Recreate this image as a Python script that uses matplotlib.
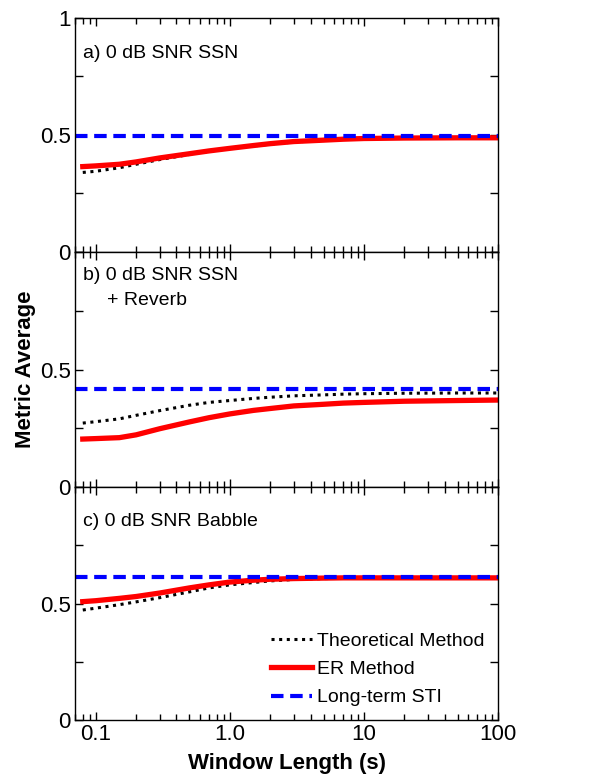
import numpy as np
import matplotlib.pyplot as plt
from matplotlib.ticker import FixedLocator, NullFormatter

plt.rcParams['font.family'] = ['Liberation Sans', 'DejaVu Sans']

# window length (s)
win = [0.08, 0.1, 0.15, 0.2, 0.3, 0.5, 0.7, 1.0, 1.5, 2, 3, 5, 7, 10, 20, 50, 100]

# a) 0 dB SNR SSN
a_theo = [0.340, 0.345, 0.360, 0.375, 0.395, 0.417, 0.430, 0.441, 0.453, 0.461, 0.470, 0.477, 0.481, 0.484, 0.486, 0.487, 0.487]
a_er = [0.365, 0.368, 0.375, 0.385, 0.402, 0.420, 0.432, 0.443, 0.455, 0.463, 0.472, 0.478, 0.482, 0.485, 0.487, 0.488, 0.488]
a_sti = 0.494

# b) 0 dB SNR SSN + Reverb
b_theo = [0.272, 0.278, 0.290, 0.305, 0.325, 0.348, 0.360, 0.368, 0.377, 0.382, 0.388, 0.392, 0.395, 0.397, 0.399, 0.400, 0.400]
b_er = [0.204, 0.206, 0.210, 0.222, 0.248, 0.277, 0.295, 0.311, 0.326, 0.334, 0.345, 0.352, 0.357, 0.360, 0.365, 0.368, 0.370]
b_sti = 0.417

# c) 0 dB SNR Babble
c_theo = [0.472, 0.480, 0.495, 0.507, 0.525, 0.550, 0.567, 0.580, 0.590, 0.597, 0.603, 0.607, 0.608, 0.609, 0.610, 0.610, 0.610]
c_er = [0.508, 0.512, 0.522, 0.530, 0.545, 0.567, 0.580, 0.592, 0.600, 0.604, 0.607, 0.609, 0.610, 0.610, 0.610, 0.610, 0.610]
c_sti = 0.614

panels = [
    (['a) 0 dB SNR SSN'], a_theo, a_er, a_sti),
    (['b) 0 dB SNR SSN', '+ Reverb'], b_theo, b_er, b_sti),
    (['c) 0 dB SNR Babble'], c_theo, c_er, c_sti),
]

fig = plt.figure(figsize=(6.06, 7.80), dpi=100)
W, H = 606.0, 780.0
left, right = 75 / W, 498 / W
tops = [18, 252, 487]
bots = [252, 487, 720]

axes = []
for i, (lab, theo, er, sti) in enumerate(panels):
    ax = fig.add_axes([left, 1 - bots[i] / H, right - left, (bots[i] - tops[i]) / H])
    axes.append(ax)
    ax.plot(win, theo, color='black', ls=(0, (1, 1.5)), lw=2.2, label='Theoretical Method')
    ax.plot(win, er, color='red', lw=3.8, label='ER Method')
    ax.plot([0.07, 100], [sti, sti], color='blue', ls=(0, (3, 1.6)), lw=3, label='Long-term STI')
    ax.set_xscale('log')
    ax.set_xlim(0.07, 100)
    ax.set_ylim(0, 1)
    ax.set_yticks([0, 0.25, 0.5, 0.75, 1])
    if i == 0:
        ax.set_yticklabels(['0', '', '0.5', '', '1'])
    else:
        ax.set_yticklabels(['0', '', '0.5', '', ''])
    ax.xaxis.set_major_locator(FixedLocator([0.1, 1, 10, 100]))
    ax.xaxis.set_minor_locator(FixedLocator([k * 10.0 ** e for e in range(-2, 2) for k in range(2, 10)]))
    ax.xaxis.set_minor_formatter(NullFormatter())
    if i == 2:
        ax.set_xticklabels(['0.1', '1.0', '10', '100'])
        ax.set_xlabel('Window Length (s)', fontsize=16, fontweight='bold', labelpad=6)
    else:
        ax.set_xticklabels([])
    ax.tick_params(which='both', direction='in', top=True, right=True, labelsize=16, width=1)
    ax.tick_params(which='major', length=6, pad=3)
    ax.tick_params(which='minor', length=4)
    for s in ax.spines.values():
        s.set_linewidth(1)
    if len(lab) == 1:
        ax.text(0.018, 0.85, lab[0], transform=ax.transAxes, fontsize=14, va='center')
    else:
        ax.text(0.018, 0.90, lab[0], transform=ax.transAxes, fontsize=14, va='center')
        ax.text(0.075, 0.795, lab[1], transform=ax.transAxes, fontsize=14, va='center')

axes[2].legend(loc='lower right', bbox_to_anchor=(1.0, 0.0), frameon=False, fontsize=14,
               handlelength=2.1, handletextpad=0.25, labelspacing=0.55, borderaxespad=0.3)

fig.text(26 / W, 1 - 369 / H, 'Metric Average', rotation=90, fontsize=16, fontweight='bold',
         ha='center', va='center')

fig.savefig('out.png', dpi=100)
